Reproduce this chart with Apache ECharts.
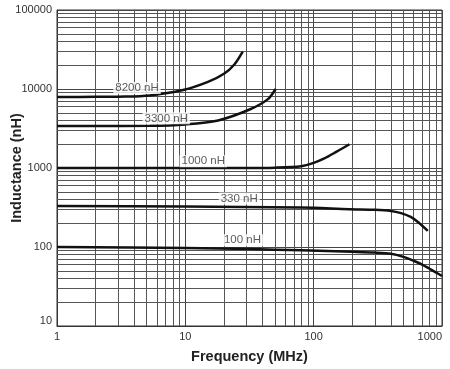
<!DOCTYPE html>
<html>
<head>
<meta charset="utf-8">
<script src="https://cdn.jsdelivr.net/npm/echarts@6/dist/echarts.min.js"></script>
<style>
html,body{margin:0;padding:0;background:#fff;}
#chart{width:450px;height:369px;}
</style>
</head>
<body>
<div id="chart"></div>
<script>
// Tick labels / gridline values
const xMajorTicks = [1, 10, 100, 1000];
const yMajorTicks = [10, 100, 1000, 10000, 100000];
const xMinorTicks = [2,3,4,5,6,7,8,9,20,30,40,50,60,70,80,90,200,300,400,500,600,700,800,900];
const yMinorTicks = [20,30,40,50,60,70,80,90,200,300,400,500,600,700,800,900,2000,3000,4000,5000,6000,7000,8000,9000,20000,30000,40000,50000,60000,70000,80000,90000];

// Series data (frequency MHz, inductance nH)
const freq8200 = [1, 2, 3, 5.3, 9.6, 15, 20, 24, 28];
const ind8200  = [7900, 7950, 8000, 8300, 9700, 12300, 15600, 20300, 29800];
const freq3300 = [1, 2, 5.3, 10, 18, 32, 44, 50.5];
const ind3300  = [3400, 3400, 3420, 3560, 4000, 5540, 7440, 10000];
const freq1000 = [1, 10, 30, 50, 80, 100, 120, 150, 190];
const ind1000  = [1000, 1000, 1000, 1010, 1055, 1160, 1310, 1600, 2000];
const freq330  = [1, 10, 80, 190, 300, 400, 480, 570, 660, 775];
const ind330   = [330, 325, 316, 301, 296, 286, 268, 240, 203, 160];
const freq100  = [1, 10, 32, 80, 200, 300, 400, 500, 600, 700, 800, 900, 1000];
const ind100   = [100, 97, 94, 91, 87, 85, 82, 75, 67, 60, 53, 47.5, 43];

// Curve labels
const labelText = ['8200 nH', '3300 nH', '1000 nH', '330 nH', '100 nH'];
const labelFreq = [4.2, 7.1, 13.8, 26.3, 27.9];
const labelInd  = [10300, 4250, 1220, 410, 122];

const FONT = 'Liberation Sans, Arial, Helvetica, sans-serif';
function zip(a, b) { return a.map((v, i) => [v, b[i]]); }

const curve = (name, f, v) => ({
  name: name, type: 'line', data: zip(f, v), smooth: 0.3, showSymbol: false,
  lineStyle: { color: '#111', width: 2.5 }, z: 5, silent: true
});

const chart = echarts.init(document.getElementById('chart'), null, { renderer: 'canvas' });
chart.setOption({
  animation: false,
  backgroundColor: '#fff',
  grid: { left: 57, right: 8, top: 10, bottom: 43, containLabel: false, outerBoundsMode: 'none',
          show: true, borderColor: '#333', borderWidth: 1 },
  xAxis: {
    type: 'log', logBase: 10, min: 1, max: 1000,
    name: 'Frequency (MHz)', nameLocation: 'middle', nameGap: 23, nameMoveOverlap: false,
    nameTextStyle: { fontFamily: FONT, fontWeight: 'bold', fontSize: 14.5, color: '#222' },
    axisLine: { show: true, lineStyle: { color: '#333' } },
    axisTick: { show: false },
    axisLabel: {
      fontFamily: FONT, fontSize: 11, color: '#333', margin: 5,
      alignMaxLabel: 'right',
      formatter: v => xMajorTicks.includes(Math.round(v)) ? String(Math.round(v)) : ''
    },
    splitLine: { show: true, lineStyle: { color: '#444', width: 1 } }
  },
  yAxis: {
    type: 'log', logBase: 10, min: 10, max: 100000,
    name: 'Inductance (nH)', nameLocation: 'middle', nameGap: 33, nameRotate: 90, nameMoveOverlap: false,
    nameTextStyle: { fontFamily: FONT, fontWeight: 'bold', fontSize: 14.5, color: '#222' },
    axisLine: { show: true, lineStyle: { color: '#333' } },
    axisTick: { show: false },
    axisLabel: {
      fontFamily: FONT, fontSize: 11, color: '#333', margin: 5,
      verticalAlignMinLabel: 'bottom',
      formatter: v => yMajorTicks.includes(Math.round(v)) ? String(Math.round(v)) : ''
    },
    splitLine: { show: true, lineStyle: { color: '#444', width: 1 } }
  },
  series: [
    {
      name: 'grid', type: 'scatter', data: [[1, 10]], symbolSize: 0, silent: true, z: 1,
      markLine: {
        silent: true, symbol: ['none', 'none'], animation: false,
        label: { show: false },
        lineStyle: { type: 'solid', color: '#555', width: 1 },
        data: xMinorTicks.map(v => ({ xAxis: v })).concat(yMinorTicks.map(v => ({ yAxis: v })))
      }
    },
    curve('8200 nH', freq8200, ind8200),
    curve('3300 nH', freq3300, ind3300),
    curve('1000 nH', freq1000, ind1000),
    curve('330 nH', freq330, ind330),
    curve('100 nH', freq100, ind100),
    {
      name: 'labels', type: 'scatter', symbolSize: 1, z: 10, silent: true,
      itemStyle: { color: 'rgba(0,0,0,0)' },
      data: labelText.map((t, i) => ({ value: [labelFreq[i], labelInd[i]], name: t })),
      label: {
        show: true, position: 'inside', formatter: p => p.name,
        fontFamily: FONT, fontSize: 11.5, color: '#333',
        backgroundColor: '#fff', padding: [0, 2, 0, 2]
      }
    }
  ]
});
</script>
</body>
</html>
